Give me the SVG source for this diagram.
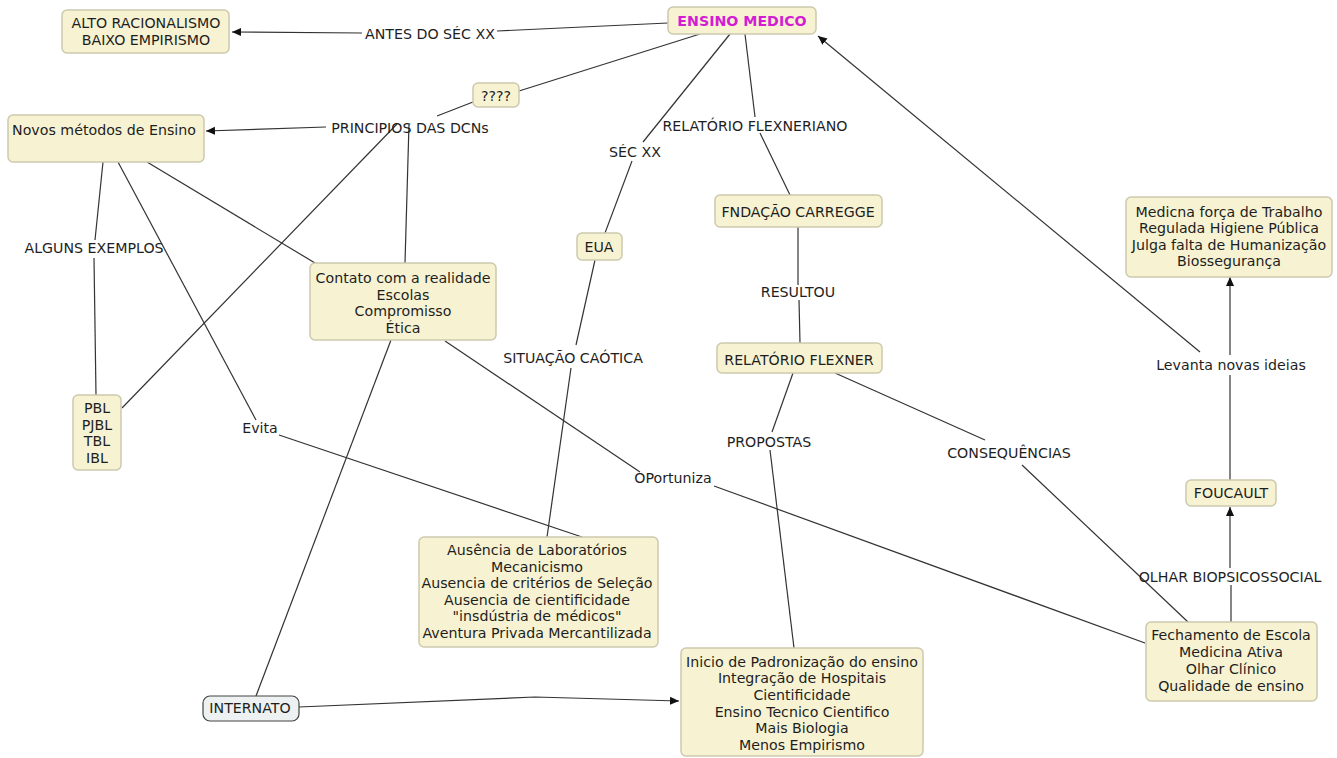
<svg xmlns="http://www.w3.org/2000/svg" width="1337" height="758" viewBox="0 0 1337 758">
<style>
.n{fill:#f7f3d2;stroke:#cdc9ae;stroke-width:1.5}
.t{font-family:"DejaVu Sans",Verdana,sans-serif;font-size:14.2px;fill:#1e1e1e;text-anchor:middle}
.c{fill:none;stroke:#333;stroke-width:1.2}
.a{fill:none;stroke:#333;stroke-width:1.2;marker-end:url(#ah)}
</style>
<defs>
<marker id="ah" viewBox="0 0 10 10" refX="10" refY="5" markerWidth="9" markerHeight="9" markerUnits="userSpaceOnUse" orient="auto">
<path d="M0,0.5 L10,5 L0,9.5 z" fill="#111"/>
</marker>
</defs>
<rect width="1337" height="758" fill="#fff"/>
<g id="connectors">
<path class="c" d="M668,23 L497,31"/>
<path class="a" d="M362,33 L232,32"/>
<path class="c" d="M700,34 L519,91"/>
<path class="c" d="M473,102 L437,116"/>
<path class="a" d="M326,127 L206,131"/>
<path class="c" d="M397,124 L122,408"/>
<path class="c" d="M409,124 L405,263"/>
<path class="c" d="M103,162 L95,240"/>
<path class="c" d="M94,258 L96,395"/>
<path class="c" d="M118,162 L256,420"/>
<path class="c" d="M279,435 L582,537"/>
<path class="c" d="M147,162 L315,263"/>
<path class="c" d="M445,341 L640,472"/>
<path class="c" d="M714,486 L1145,643"/>
<path class="c" d="M391,340 L256,696"/>
<path class="a" d="M299,707 L535,697 L679,701"/>
<path class="c" d="M730,34 L643,142"/>
<path class="c" d="M632,161 L605,233"/>
<path class="c" d="M595,260 L576,345"/>
<path class="c" d="M571,368 L547,537"/>
<path class="c" d="M745,34 L755,117"/>
<path class="c" d="M760,133 L790,195"/>
<path class="c" d="M798,227 L798,285"/>
<path class="c" d="M799,300 L800,343"/>
<path class="c" d="M793,373 L772,432"/>
<path class="c" d="M770,450 L794,648"/>
<path class="c" d="M835,373 L985,440"/>
<path class="c" d="M1022,465 L1188,622"/>
<path class="c" d="M1231,622 L1231,585"/>
<path class="a" d="M1230,568 L1230,507"/>
<path class="c" d="M1230,480 L1230,375"/>
<path class="a" d="M1230,355 L1230,277"/>
<path class="a" d="M1200,352 L818,36"/>
</g>
<g id="n-ensino"><rect class="n" x="668" y="7" width="148" height="27" rx="5"/><text class="t" x="742" y="26" style="font-weight:bold;fill:#d31dd3">ENSINO MEDICO</text></g>
<g id="n-alto"><rect class="n" x="62" y="10" width="167" height="43" rx="5"/><text class="t" x="146" y="28">ALTO RACIONALISMO</text><text class="t" x="146" y="45">BAIXO EMPIRISMO</text></g>
<g id="n-q"><rect class="n" x="473" y="83" width="46" height="24" rx="5"/><text class="t" x="496" y="101">????</text></g>
<g id="n-novos"><rect class="n" x="8" y="115" width="196" height="47" rx="5"/><text class="t" x="104" y="135">Novos métodos de Ensino</text></g>
<g id="n-contato"><rect class="n" x="310" y="263" width="186" height="77" rx="5"/><text class="t" x="403" y="283">Contato com a realidade</text><text class="t" x="403" y="300">Escolas</text><text class="t" x="403" y="316">Compromisso</text><text class="t" x="403" y="333">Ética</text></g>
<g id="n-pbl"><rect class="n" x="73" y="395" width="48" height="75" rx="5"/><text class="t" x="97" y="413">PBL</text><text class="t" x="97" y="430">PJBL</text><text class="t" x="97" y="446">TBL</text><text class="t" x="97" y="463">IBL</text></g>
<g id="n-eua"><rect class="n" x="577" y="233" width="45" height="27" rx="5"/><text class="t" x="599" y="252">EUA</text></g>
<g id="n-fndacao"><rect class="n" x="715" y="195" width="167" height="32" rx="5"/><text class="t" x="798" y="217">FNDAÇÃO CARREGGE</text></g>
<g id="n-flexner"><rect class="n" x="717" y="343" width="165" height="30" rx="5"/><text class="t" x="799" y="365">RELATÓRIO FLEXNER</text></g>
<g id="n-ausencia"><rect class="n" x="419" y="537" width="239" height="110" rx="5"/><text class="t" x="537" y="555">Ausência de Laboratórios</text><text class="t" x="537" y="572">Mecanicismo</text><text class="t" x="537" y="588">Ausencia de critérios de Seleção</text><text class="t" x="537" y="605">Ausencia de cientificidade</text><text class="t" x="537" y="621">"insdústria de médicos"</text><text class="t" x="537" y="638">Aventura Privada Mercantilizada</text></g>
<g id="n-inicio"><rect class="n" x="681" y="648" width="242" height="108" rx="5"/><text class="t" x="802" y="667">Inicio de Padronização do ensino</text><text class="t" x="802" y="683">Integração de Hospitais</text><text class="t" x="802" y="700">Cientificidade</text><text class="t" x="802" y="717">Ensino Tecnico Cientifico</text><text class="t" x="802" y="733">Mais Biologia</text><text class="t" x="802" y="750">Menos Empirismo</text></g>
<g id="n-internato"><rect x="203" y="696" width="96" height="25" rx="7" fill="#edf1f1" stroke="#444" stroke-width="1.2"/><text class="t" x="250" y="713">INTERNATO</text></g>
<g id="n-fechamento"><rect class="n" x="1146" y="622" width="171" height="79" rx="5"/><text class="t" x="1231" y="640">Fechamento de Escola</text><text class="t" x="1231" y="657">Medicina Ativa</text><text class="t" x="1231" y="674">Olhar Clínico</text><text class="t" x="1231" y="691">Qualidade de ensino</text></g>
<g id="n-foucault"><rect class="n" x="1186" y="480" width="90" height="26" rx="5"/><text class="t" x="1231" y="498">FOUCAULT</text></g>
<g id="n-medicna"><rect class="n" x="1126" y="197" width="206" height="80" rx="5"/><text class="t" x="1229" y="217">Medicna força de Trabalho</text><text class="t" x="1229" y="233">Regulada Higiene Pública</text><text class="t" x="1229" y="250">Julga falta de Humanização</text><text class="t" x="1229" y="266">Biossegurança</text></g>
<g id="labels">
<text class="t" x="430" y="39">ANTES DO SÉC XX</text>
<text class="t" x="410" y="133">PRINCIPIOS DAS DCNs</text>
<text class="t" x="94" y="253">ALGUNS EXEMPLOS</text>
<text class="t" x="260" y="433">Evita</text>
<text class="t" x="635" y="157">SÉC XX</text>
<text class="t" x="755" y="131">RELATÓRIO FLEXNERIANO</text>
<text class="t" x="798" y="297">RESULTOU</text>
<text class="t" x="573" y="363">SITUAÇÃO CAÓTICA</text>
<text class="t" x="769" y="447">PROPOSTAS</text>
<text class="t" x="673" y="483">OPortuniza</text>
<text class="t" x="1009" y="458">CONSEQUÊNCIAS</text>
<text class="t" x="1230" y="582">OLHAR BIOPSICOSSOCIAL</text>
<text class="t" x="1231" y="370">Levanta novas ideias</text>
</g>
</svg>
